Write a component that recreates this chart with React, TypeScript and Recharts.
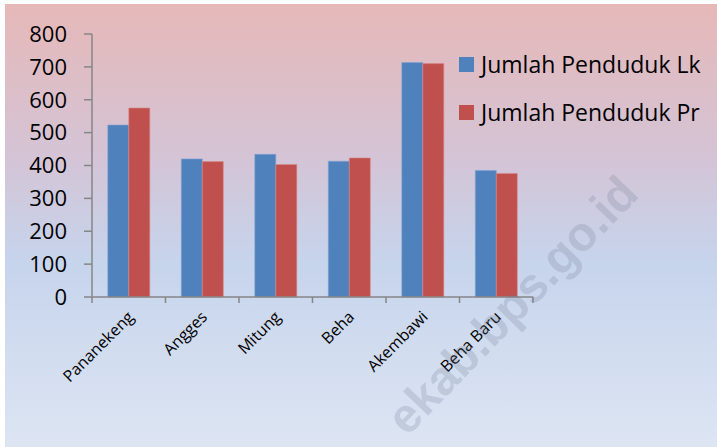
import { BarChart, Bar, XAxis, YAxis, Legend } from 'recharts';

const categories = ['Pananekeng', 'Angges', 'Mitung', 'Beha', 'Akembawi', 'Beha Baru'];
const lakiLaki = [523, 420, 434, 413, 713, 385];
const perempuan = [575, 412, 403, 423, 710, 376];
const yTicks = [0, 100, 200, 300, 400, 500, 600, 700, 800];

const data = categories.map((name, i) => ({ name, lk: lakiLaki[i], pr: perempuan[i] }));

const FONT = '"Open Sans", "Noto Sans", sans-serif';
const AXIS = '#868686';

// category labels sit at band centres; tick marks go on the band edges like Excel does
function CategoryTick({ x, y, payload, index }: any) {
    const half = payload?.offset || 36.75;
    const top = y - 8;
    return (
        <g>
            <line x1={x - half} y1={top} x2={x - half} y2={top + 6} stroke={AXIS} strokeWidth={1.5} />
            {index === categories.length - 1 && <line x1={x + half} y1={top} x2={x + half} y2={top + 6} stroke={AXIS} strokeWidth={1.5} />}
            <text x={x + 6} y={y + 13} transform={`rotate(-45 ${x + 6} ${y + 13})`} textAnchor="end" fontFamily={FONT} fontSize={16} fill="#000">
                {payload.value}
            </text>
        </g>
    );
}

function ChartLegend({ payload }: any) {
    return (
        <div style={{ fontFamily: FONT }}>
            {payload.map((e: any, i: number) => (
                <div key={i} style={{ display: 'flex', alignItems: 'center', height: 48 }}>
                    <span style={{ width: 15, height: 15, background: e.color, marginRight: 7, display: 'inline-block' }} />
                    <span style={{ fontSize: 23, color: '#000', lineHeight: '26px' }}>{e.value}</span>
                </div>
            ))}
        </div>
    );
}

export default function App() {
    return (
        <div style={{ position: 'absolute', left: 0, top: 0, width: 717, height: 447, background: '#fff', overflow: 'hidden' }}>
            <div style={{ position: 'absolute', left: 5, top: 4, width: 712, height: 443, background: 'linear-gradient(to bottom, #e6b8b8 0%, #d4c4d6 35%, #c6d4ec 58%, #dde5f3 100%)' }}>
                <BarChart width={712} height={443} data={data} margin={{ top: 30, right: 184, bottom: 149, left: 0 }} barCategoryGap="21.5%" barGap={0}>
                    <XAxis dataKey="name" height={1} stroke={AXIS} strokeWidth={1.5} tickLine={false} interval={0} tick={<CategoryTick />} />
                    <YAxis domain={[0, 800]} ticks={yTicks} width={87} stroke={AXIS} strokeWidth={1.5} tickSize={8} tickMargin={17} tick={{ fontFamily: FONT, fontSize: 22, fill: '#000' }} />
                    <Legend layout="vertical" verticalAlign="middle" align="center" content={<ChartLegend />} wrapperStyle={{ left: 454, top: 36, width: 258 }} />
                    <Bar dataKey="lk" name="Jumlah Penduduk Lk" fill="#4f81bd" stroke="#7fa2d0" strokeWidth={0.6} isAnimationActive={false} />
                    <Bar dataKey="pr" name="Jumlah Penduduk Pr" fill="#c0504d" stroke="#d98a88" strokeWidth={0.6} isAnimationActive={false} />
                </BarChart>
            </div>
            <div style={{ position: 'absolute', left: 512, top: 305, transform: 'translate(-50%, -50%) rotate(-46deg)', whiteSpace: 'nowrap', fontFamily: '"Liberation Sans", sans-serif', fontWeight: 'bold', fontSize: 48, color: 'rgba(110,120,140,0.22)', pointerEvents: 'none' }}>
                ekab.bps.go.id
            </div>
        </div>
    );
}
